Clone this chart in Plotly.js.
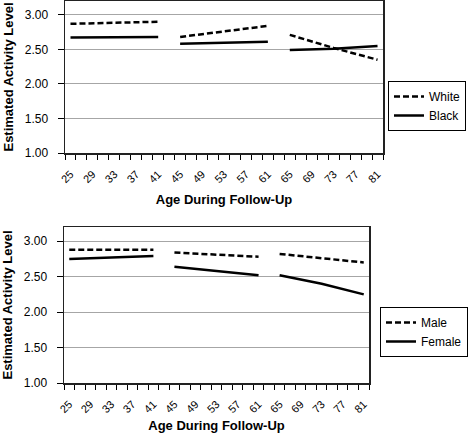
<!DOCTYPE html>
<html>
<head>
<meta charset="utf-8">
<script src="https://cdn.plot.ly/plotly-3.0.1.min.js"></script>
<style>html,body{margin:0;padding:0;background:#fff;}#chart{width:473px;height:433px;}</style>
</head>
<body>
<div id="chart"></div>
<script>
// Ages (gaps at 43 and 63 separate the three follow-up periods)
const ages = [25, 33, 41, 43, 45, 53, 61, 63, 65, 73, 81];
const white  = [2.87, 2.88, 2.90, null, 2.68, 2.76, 2.84, null, 2.71, 2.52, 2.35];
const black  = [2.67, 2.67, 2.68, null, 2.58, 2.59, 2.61, null, 2.49, 2.51, 2.55];
const male   = [2.88, 2.88, 2.88, null, 2.84, 2.81, 2.78, null, 2.82, 2.76, 2.70];
const female = [2.75, 2.77, 2.79, null, 2.64, 2.58, 2.52, null, 2.52, 2.40, 2.25];
const ageTicks = [25, 29, 33, 37, 41, 45, 49, 53, 57, 61, 65, 69, 73, 77, 81];
const yTicks = [1.0, 1.5, 2.0, 2.5, 3.0];
const yTickText = ['1.00', '1.50', '2.00', '2.50', '3.00'];

const W = 473, H = 433;
const font = 'Liberation Sans, Arial, sans-serif';
const dashed = {color: '#000', width: 2.5, dash: '6px,3px'};
const solid = {color: '#000', width: 2.5};

const traces = [
  {x: ages, y: white, type: 'scatter', mode: 'lines', name: 'White', line: dashed, xaxis: 'x', yaxis: 'y', legend: 'legend', connectgaps: false},
  {x: ages, y: black, type: 'scatter', mode: 'lines', name: 'Black', line: solid, xaxis: 'x', yaxis: 'y', legend: 'legend', connectgaps: false},
  {x: ages, y: male, type: 'scatter', mode: 'lines', name: 'Male', line: dashed, xaxis: 'x2', yaxis: 'y2', legend: 'legend2', connectgaps: false},
  {x: ages, y: female, type: 'scatter', mode: 'lines', name: 'Female', line: solid, xaxis: 'x2', yaxis: 'y2', legend: 'legend2', connectgaps: false}
];

function xAxis(domain, anchor) {
  return {
    domain: domain, anchor: anchor, range: [24, 82],
    tickmode: 'array', tickvals: ageTicks, ticktext: ageTicks.map(String),
    tickangle: -45, ticks: '', showgrid: false, zeroline: false,
    ticklabelstandoff: 9,
    tickfont: {family: font, size: 11, color: '#000'},
    minor: {tickmode: 'linear', tick0: 24, dtick: 2, ticks: 'outside', ticklen: 5, tickcolor: '#000', tickwidth: 1, showgrid: false},
    showline: true, linecolor: '#222', linewidth: 1.5, mirror: true,
    title: {text: '<b>Age During Follow-Up</b>', font: {family: font, size: 13, color: '#000'}, standoff: 10}
  };
}
function yAxis(domain, anchor) {
  return {
    domain: domain, anchor: anchor, range: [1, 3.2],
    tickmode: 'array', tickvals: yTicks, ticktext: yTickText,
    ticks: 'outside', ticklen: 6, tickcolor: '#000',
    ticklabelstandoff: 7,
    showgrid: true, gridcolor: '#a6a6a6', gridwidth: 1, zeroline: false,
    tickfont: {family: font, size: 12, color: '#000'},
    showline: true, linecolor: '#222', linewidth: 1.5, mirror: true,
    title: {text: '<b>Estimated Activity Level</b>', font: {family: font, size: 13, color: '#000'}, standoff: 8}
  };
}

const legendBase = {
  xanchor: 'left', yanchor: 'top',
  bordercolor: '#000', borderwidth: 1, bgcolor: '#fff',
  font: {family: font, size: 12, color: '#000'}, itemwidth: 30, tracegroupgap: 0
};

const layout = {
  width: W, height: H,
  margin: {l: 0, r: 0, t: 0, b: 0},
  paper_bgcolor: '#fff', plot_bgcolor: '#fff',
  font: {family: font, size: 12, color: '#000'},
  xaxis: xAxis([65 / W, 383 / W], 'y'),
  yaxis: yAxis([1 - 153 / H, 1 - 1 / H], 'x'),
  xaxis2: xAxis([64 / W, 369 / W], 'y2'),
  yaxis2: yAxis([1 - 383 / H, 1 - 227 / H], 'x2'),
  legend: Object.assign({}, legendBase, {x: 388 / W, y: 1 - 81 / H}),
  legend2: Object.assign({}, legendBase, {x: 380 / W, y: 1 - 307 / H}),
  showlegend: true
};

Plotly.newPlot('chart', traces, layout, {displayModeBar: false, staticPlot: true});
</script>
</body>
</html>
